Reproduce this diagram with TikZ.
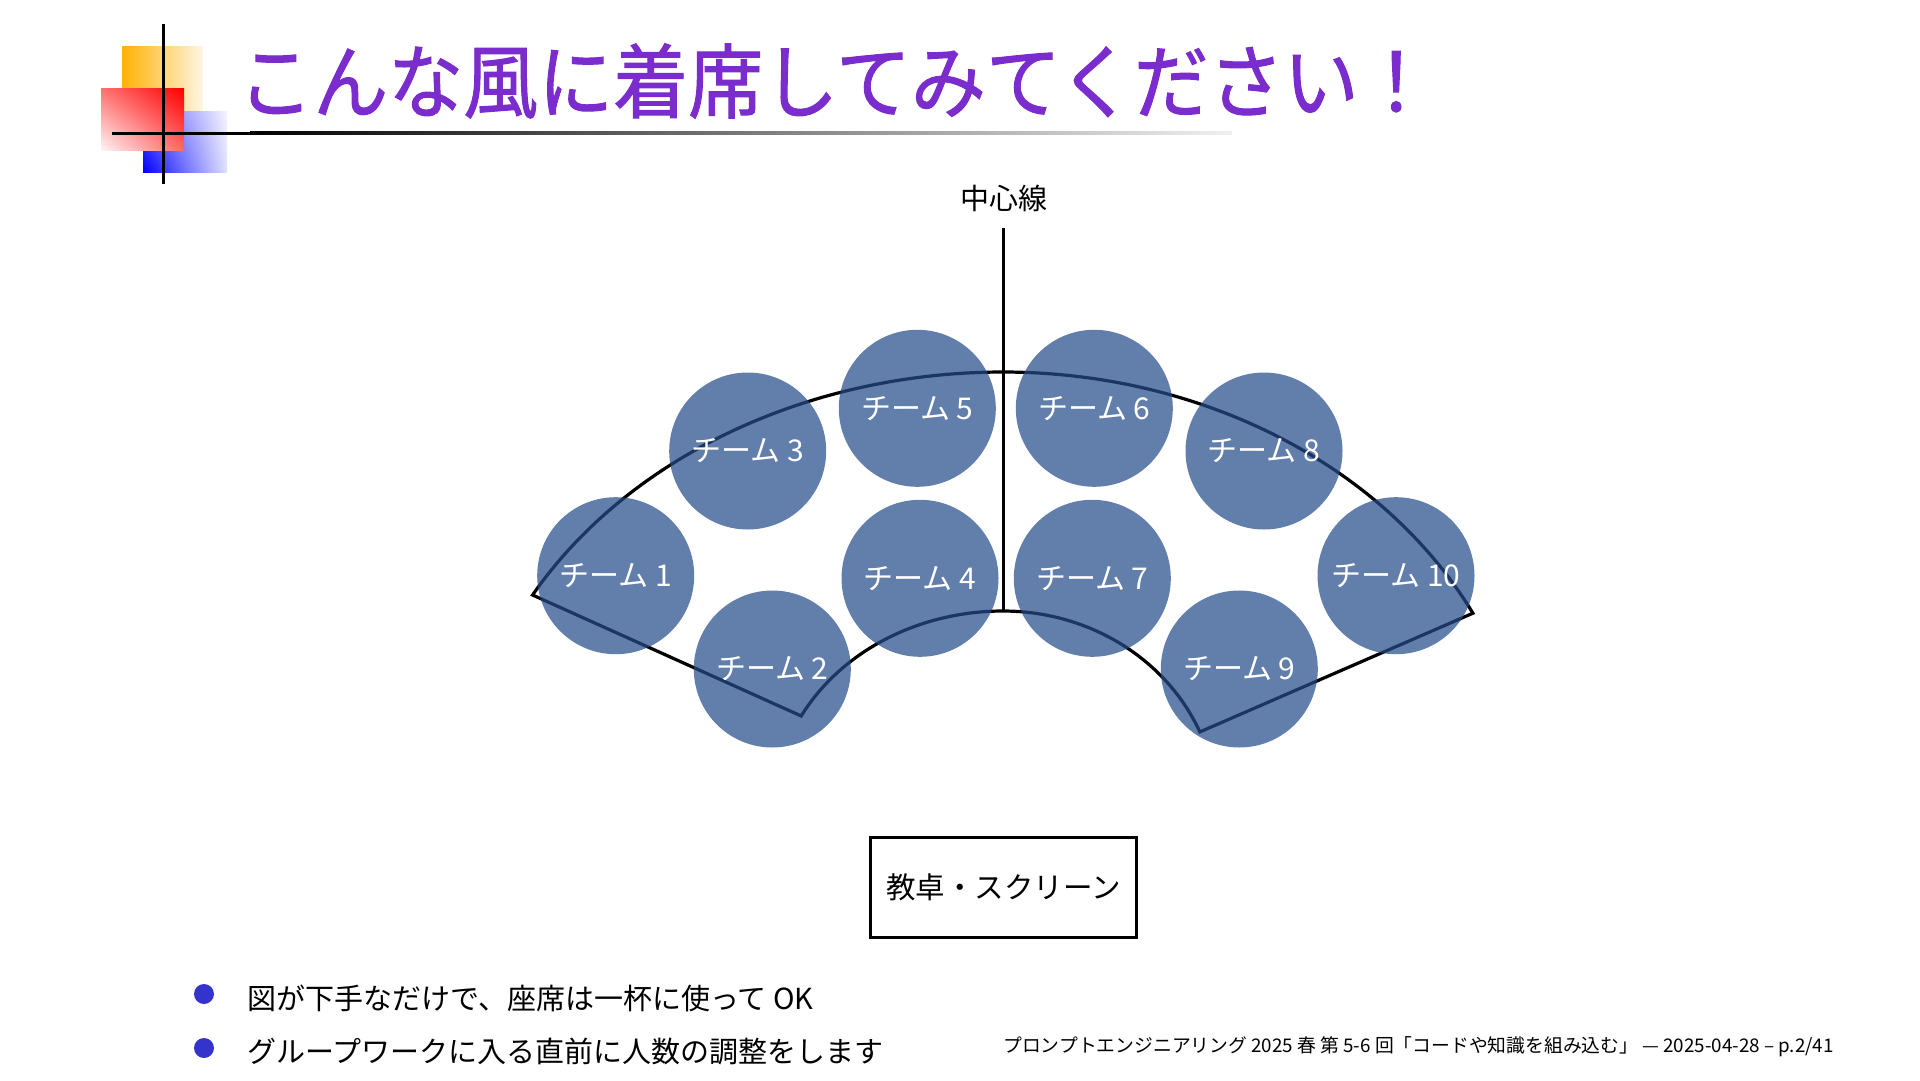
\documentclass[tikz,border=0pt]{standalone}
\usepackage{fontspec}
\usetikzlibrary{shadings}
\setmainfont{Noto Sans CJK JP}
\newfontfamily\titlefont{Noto Sans CJK JP}[FakeBold=1.3]
\definecolor{titlepurple}{RGB}{122,44,204}
\definecolor{teamblue}{RGB}{38,76,137}
\definecolor{bulletblue}{RGB}{52,52,204}
\definecolor{logoorange}{RGB}{255,178,0}
\definecolor{logofade}{RGB}{255,246,228}
\begin{document}
\begin{tikzpicture}[x=1pt,y=-1pt,
  team/.style={circle, fill=teamblue, fill opacity=0.72, text opacity=1, text=white,
    minimum size=157pt, inner sep=0pt, font=\fontsize{30}{34}\selectfont},
  sector/.style={line width=3.2pt, black},
  bodytext/.style={anchor=west, inner sep=0pt, font=\fontsize{29}{34}\selectfont},
  bulletdot/.style={circle, fill=bulletblue, minimum size=20pt, inner sep=0pt}]
\useasboundingbox (0,0) rectangle (1920,1081);
% logo
\shade[left color=logoorange, right color=logofade] (122,47) rectangle (203,111);
\shade[lower left=blue, upper left=blue!65, lower right=blue!12, upper right=blue!4] (143,111) rectangle (227,172);
\shade[upper right=red, upper left=red!55, lower right=red!60, lower left=red!4] (101,89) rectangle (184,150);
\fill[black] (161.5,24) rectangle (164.5,184);
\fill[black] (112,131.5) rectangle (250,134.5);
\shade[left color=black, right color=black!6] (250,131.5) rectangle (1232,134.5);
% title
\node[anchor=west, text=titlepurple, inner sep=0pt, font=\titlefont\fontsize{75}{84}\selectfont] (title) at (238,81) {\scalebox{1}[1.08]{こんな風に着席してみてください！}};
% center line
\node[font=\fontsize{29}{34}\selectfont, inner sep=0pt] (cl) at (1004,198) {中心線};
\coordinate (cltop) at (1003,228);
\coordinate (clbot) at (1003,611);
\draw[line width=3pt] (cltop) -- (clbot);
% sector
\draw[sector] plot[domain=209.4:270, samples=60, variable=\t] ({1003+540*cos(\t)},{810+438*sin(\t)})
  -- plot[domain=270:333.3, samples=60, variable=\t] ({1003+526*cos(\t)},{810+438*sin(\t)})
  -- plot[domain=336.9:270, samples=60, variable=\t] ({1003+214*cos(\t)},{810+199*sin(\t)})
  -- plot[domain=270:208.2, samples=60, variable=\t] ({1003+229*cos(\t)},{810+199*sin(\t)})
  -- cycle;
% teams
\node[team] (t1) at (615.7,575.7) {チーム 1};
\node[team] (t2) at (772.3,669) {チーム 2};
\node[team] (t3) at (747.7,451) {チーム 3};
\node[team] (t4) at (920,578.3) {チーム 4};
\node[team] (t5) at (917.3,408.3) {チーム 5};
\node[team] (t6) at (1094.3,408.3) {チーム 6};
\node[team] (t7) at (1092.3,578.3) {チーム 7};
\node[team] (t8) at (1264,451) {チーム 8};
\node[team] (t9) at (1239.3,669) {チーム 9};
\node[team] (t10) at (1396,575.7) {チーム 10};
% desk
\node[draw, line width=3pt, minimum width=266pt, minimum height=100pt, inner sep=0pt,
  font=\fontsize{29.5}{34}\selectfont] (desk) at (1003.5,887) {教卓・スクリーン};
% bullets
\node[bulletdot] (b1) at (204,994) {};
\node[bodytext] (l1) at (247,998) {図が下手なだけで、座席は一杯に使って OK};
\node[bulletdot] (b2) at (204,1048) {};
\node[bodytext] (l2) at (247,1051) {グループワークに入る直前に人数の調整をします};
% footer
\node[anchor=east, inner sep=0pt, font=\fontsize{18.8}{21}\selectfont] (foot) at (1834,1047) {プロンプトエンジニアリング 2025 春 第 5-6 回「コードや知識を組み込む」 — 2025-04-28 – p.2/41};
\end{tikzpicture}
\end{document}
